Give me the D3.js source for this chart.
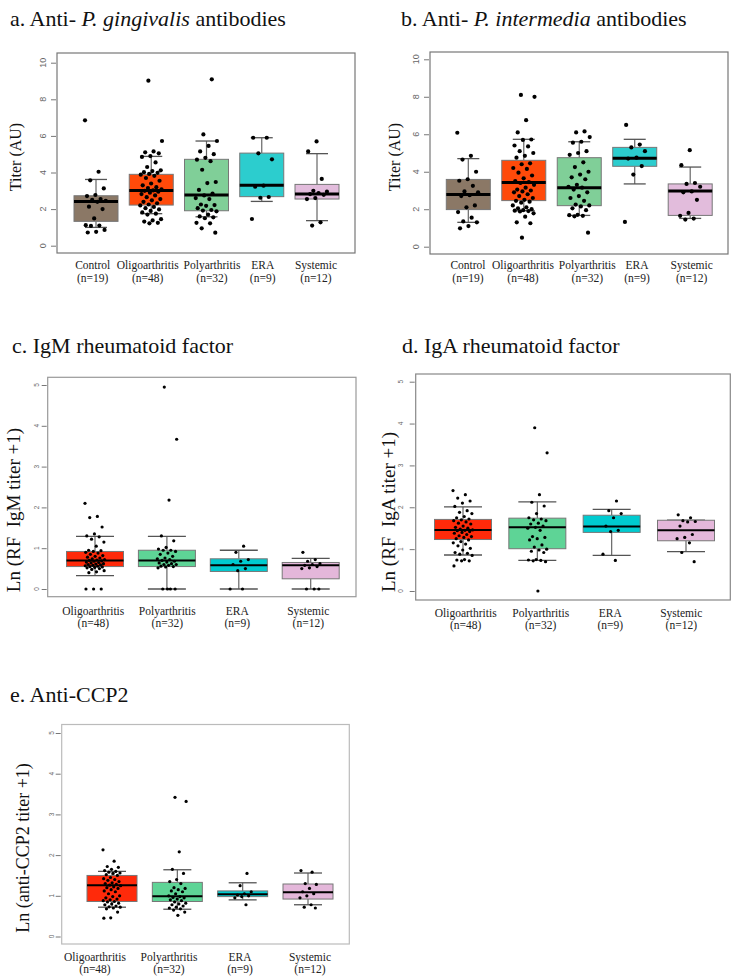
<!DOCTYPE html>
<html><head><meta charset="utf-8">
<script src="https://cdn.jsdelivr.net/npm/d3@7"></script>
<style>body{margin:0;background:#fff}</style>
</head><body><svg id="c" width="746" height="979"></svg>
<script>
// ---------- categories / tick labels ----------
const groupsAB = ["Control","Oligoarthritis","Polyarthritis","ERA","Systemic"];
const countsAB = ["(n=19)","(n=48)","(n=32)","(n=9)","(n=12)"];
const groupsCDE = ["Oligoarthritis","Polyarthritis","ERA","Systemic"];
const countsCDE = ["(n=48)","(n=32)","(n=9)","(n=12)"];
const ticksAB = [0,2,4,6,8,10];
const ticksCDE = [0,1,2,3,4,5];

// ---------- a. Anti-P. gingivalis: points ----------
const pgControl = [6.85,4.04,3.57,3.13,2.77,2.71,2.55,2.5,2.45,2.4,2.13,2.0,1.49,1.12,1.1,1.08,0.86,0.76,0.72];
const pgOligo = [9.02,5.72,5.15,5.1,5.05,4.9,4.85,4.55,4.3,4.12,4.08,4.02,3.98,3.92,3.88,3.82,3.7,3.55,3.4,3.3,3.2,3.15,3.08,3.02,3.0,2.95,2.9,2.82,2.75,2.65,2.55,2.48,2.4,2.32,2.25,2.2,2.12,2.05,1.98,1.9,1.82,1.75,1.7,1.45,1.38,1.32,1.25,1.22];
const pgPoly = [9.09,6.08,5.72,5.45,5.15,5.0,4.8,4.7,4.62,4.15,3.48,3.42,3.05,2.85,2.75,2.6,2.55,2.25,2.22,2.18,2.05,1.95,1.92,1.88,1.7,1.6,1.55,1.5,1.25,1.22,0.95,0.71];
const pgERA = [5.9,5.9,5.05,4.72,3.28,3.22,2.66,2.62,1.46];
const pgSyst = [5.7,5.15,3.65,3.0,2.95,2.88,2.82,2.78,2.6,2.55,1.28,1.1];
// box stats: [lower whisker, Q1, median, Q3, upper whisker]
const pgBoxes = [[1.0,1.33,2.42,2.73,3.62],[1.75,2.22,3.02,3.9,4.88],[1.58,1.91,2.77,4.72,5.72],[2.42,2.68,3.3,5.06,5.9],[1.37,2.55,2.82,3.35,5.03]];

// ---------- b. Anti-P. intermedia ----------
const piControl = [6.08,4.85,4.65,4.0,3.6,3.52,3.25,2.95,2.9,2.75,2.7,2.2,2.1,1.85,1.55,1.35,1.3,1.1,0.98];
const piOligo = [8.1,8.0,6.75,6.1,5.72,5.7,5.4,5.35,5.1,5.0,4.85,4.75,4.45,4.4,4.2,4.15,3.95,3.8,3.65,3.5,3.45,3.4,3.3,3.15,3.05,3.0,2.95,2.9,2.8,2.7,2.6,2.5,2.45,2.4,2.35,2.2,2.1,2.05,2.0,1.95,1.92,1.9,1.88,1.78,1.6,1.3,1.25,0.48];
const piPoly = [6.15,6.1,5.85,5.6,5.55,5.1,5.0,4.9,4.5,4.25,4.0,3.85,3.7,3.6,3.3,3.2,3.15,3.05,2.9,2.7,2.6,2.45,2.25,2.2,2.15,2.05,1.95,1.7,1.68,1.65,1.62,0.75];
const piERA = [6.5,5.45,5.3,5.1,4.75,4.7,4.3,3.85,1.32];
const piSyst = [5.15,4.35,3.4,3.35,3.2,2.95,2.9,2.5,1.8,1.65,1.5,1.45];
const piBoxes = [[1.3,1.98,2.79,3.59,4.7],[1.92,2.46,3.42,4.61,5.73],[1.67,2.19,3.15,4.75,5.6],[3.35,4.29,4.72,5.3,5.73],[1.51,1.67,2.97,3.35,4.25]];

// ---------- c. IgM RF ----------
const igmOligo = [2.1,1.78,1.75,1.52,1.35,1.3,1.28,1.22,1.15,1.05,0.95,0.94,0.92,0.9,0.88,0.85,0.82,0.8,0.78,0.76,0.74,0.72,0.71,0.7,0.69,0.68,0.66,0.65,0.64,0.62,0.61,0.6,0.59,0.58,0.57,0.56,0.55,0.54,0.53,0.52,0.5,0.48,0.45,0.42,0.4,0,0,0];
const igmPoly = [4.95,3.67,2.18,1.3,1.18,1.02,0.98,0.95,0.95,0.92,0.88,0.85,0.8,0.76,0.74,0.72,0.7,0.68,0.66,0.64,0.62,0.6,0.6,0.58,0.56,0.55,0.54,0.52,0,0,0,0];
const igmERA = [1.05,0.9,0.72,0.68,0.6,0.5,0.45,0,0];
const igmSyst = [0.9,0.72,0.68,0.62,0.6,0.58,0.55,0.52,0.5,0,0,0];
const igmBoxes = [[0.33,0.55,0.70,0.92,1.29],[0,0.55,0.70,0.95,1.29],[0,0.43,0.58,0.74,0.95],[0,0.25,0.58,0.65,0.75]];

// ---------- d. IgA RF ----------
const igaOligo = [2.4,2.3,2.22,2.15,2.1,2.02,1.92,1.88,1.85,1.78,1.75,1.72,1.7,1.68,1.65,1.62,1.6,1.55,1.52,1.5,1.48,1.46,1.45,1.44,1.42,1.4,1.38,1.35,1.32,1.3,1.28,1.25,1.22,1.18,1.15,1.12,1.08,1.02,0.98,0.92,0.9,0.88,0.85,0.75,0.74,0.72,0.72,0.6];
const igaPoly = [3.9,3.3,2.3,2.12,2.03,1.85,1.75,1.72,1.7,1.68,1.62,1.6,1.55,1.52,1.5,1.45,1.3,1.28,1.25,1.22,1.1,1.05,1.0,0.98,0.95,0.92,0.75,0.74,0.73,0.72,0.7,0];
const igaERA = [2.15,1.92,1.85,1.75,1.55,1.45,1.42,0.88,0.73];
const igaSyst = [1.82,1.75,1.68,1.66,1.65,1.55,1.35,1.28,1.25,1.15,0.92,0.7];
const igaBoxes = [[0.86,1.23,1.46,1.71,2.01],[0.73,1.01,1.52,1.74,2.13],[0.85,1.40,1.54,1.81,1.95],[0.94,1.20,1.45,1.69,1.69]];

// ---------- e. Anti-CCP2 ----------
const ccpOligo = [2.13,1.85,1.72,1.7,1.65,1.62,1.6,1.58,1.56,1.55,1.52,1.5,1.45,1.42,1.4,1.38,1.35,1.32,1.3,1.28,1.26,1.25,1.22,1.2,1.18,1.15,1.12,1.1,1.05,1.0,0.98,0.95,0.92,0.9,0.88,0.86,0.85,0.82,0.8,0.78,0.75,0.73,0.72,0.7,0.68,0.6,0.46,0.45];
const ccpPoly = [3.42,3.32,2.08,1.65,1.55,1.4,1.35,1.3,1.2,1.18,1.15,1.12,1.1,1.05,1.0,0.98,0.96,0.95,0.92,0.9,0.88,0.85,0.82,0.8,0.78,0.75,0.72,0.7,0.68,0.65,0.6,0.52];
const ccpERA = [1.55,1.25,1.1,1.05,1.02,1.0,0.98,0.95,0.78];
const ccpSyst = [1.62,1.58,1.3,1.28,1.18,1.1,1.05,1.0,0.95,0.78,0.72,0.7];
const ccpBoxes = [[0.72,0.86,1.26,1.50,1.60],[0.67,0.86,0.99,1.33,1.64],[0.90,0.98,1.04,1.12,1.32],[0.78,0.92,1.09,1.29,1.56]];

// ---------- colours ----------
const colorsAB = ["#8b7866","#ff4a0a","#80cf98","#2ccdce","#e2bcdc"];
const colorsCDE = ["#ff2a0a","#5ed496","#00cbd0","#e4b7da"];

// ---------- panel layout ----------
const panels = [
  {title:["a. Anti- ","P. gingivalis"," antibodies"], tx:10, ty:26, ylab:"Titer (AU)", ylx:15, yly:157, ylfs:16,
   frame:[57,53,355,253], yr:[245.7,62.7], dom:[0,10], ticks:ticksAB, tlx:42.7, tfs:9,
   groups:groupsAB, counts:countsAB, centers:[96,317], labX:[92.7,147.7,212,262.7,316], boxW:44, capW:22, jit:22,
   xl1:269, xl2:281.5, pts:[pgControl,pgOligo,pgPoly,pgERA,pgSyst], boxes:pgBoxes, colors:colorsAB, r:2.1, med:3, frameCol:"#777"},
  {title:["b. Anti- ","P. intermedia"," antibodies"], tx:401, ty:26, ylab:"Titer (AU)", ylx:394, yly:157, ylfs:16,
   frame:[430,52,728,254], yr:[246.7,59.3], dom:[0,10], ticks:ticksAB, tlx:415.7, tfs:9,
   groups:groupsAB, counts:countsAB, centers:[468.3,690.2], labX:[468,523,587.3,637,691.7], boxW:44, capW:22, jit:22,
   xl1:269, xl2:281.5, pts:[piControl,piOligo,piPoly,piERA,piSyst], boxes:piBoxes, colors:colorsAB, r:2.1, med:3, frameCol:"#777"},
  {title:["c. IgM rheumatoid factor"], tx:12, ty:353, ylab:"Ln (RF\u00a0 IgM titer +1)", ylx:13, yly:510, ylfs:19,
   frame:[47.7,377.3,356,596.7], yr:[589,385], dom:[0,5], ticks:ticksCDE, tlx:36.7, tfs:6.5,
   groups:groupsCDE, counts:countsCDE, centers:[95,310.7], labX:[93.3,167.3,237.3,308.3], boxW:57, capW:38, jit:20,
   xl1:615, xl2:627.3, pts:[igmOligo,igmPoly,igmERA,igmSyst], boxes:igmBoxes, colors:colorsCDE, r:1.6, med:2, frameCol:"#999"},
  {title:["d. IgA rheumatoid factor"], tx:402, ty:353, ylab:"Ln (RF\u00a0 IgA titer +1)", ylx:388, yly:512, ylfs:19,
   frame:[415.7,374,730.3,600], yr:[591,381.7], dom:[0,5], ticks:ticksCDE, tlx:401, tfs:6.5,
   groups:groupsCDE, counts:countsCDE, centers:[463,686], labX:[465.7,540.7,610.3,681.3], boxW:57, capW:38, jit:20,
   xl1:616.7, xl2:628.5, pts:[igaOligo,igaPoly,igaERA,igaSyst], boxes:igaBoxes, colors:colorsCDE, r:1.6, med:2, frameCol:"#888"},
  {title:["e. Anti-CCP2"], tx:10, ty:701.7, ylab:"Ln (anti-CCP2 titer +1)", ylx:22.7, yly:848, ylfs:18,
   frame:[61.7,724.5,349.3,944], yr:[936.5,733], dom:[0,5], ticks:ticksCDE, tlx:51.7, tfs:6.5,
   groups:groupsCDE, counts:countsCDE, centers:[112,308], labX:[95,169,240,310], boxW:50, capW:28, jit:18,
   xl1:960.7, xl2:973.3, pts:[ccpOligo,ccpPoly,ccpERA,ccpSyst], boxes:ccpBoxes, colors:colorsCDE, r:1.6, med:2, frameCol:"#bbb"}
];

const svg = d3.select("#c");
const serif = "'Liberation Serif','Times New Roman',serif";
const sans = "'Liberation Sans',Arial,sans-serif";

panels.forEach(p => {
  const g = svg.append("g");
  // title
  const t = g.append("text").attr("x", p.tx).attr("y", p.ty)
    .attr("font-family", serif).attr("font-size", 22).attr("fill", "#111");
  p.title.forEach((s, i) => t.append("tspan").text(s).attr("font-style", i === 1 ? "italic" : "normal"));

  const y = d3.scaleLinear().domain(p.dom).range(p.yr);
  const x = d3.scalePoint().domain(p.groups).range(p.centers);
  const [fx0, fy0, fx1, fy1] = p.frame;

  // frame
  g.append("rect").attr("x", fx0).attr("y", fy0).attr("width", fx1 - fx0).attr("height", fy1 - fy0)
    .attr("fill", "none").attr("stroke", p.frameCol).attr("stroke-width", 1.2);

  // y axis
  const ax = g.append("g").attr("transform", `translate(${fx0 - 1},0)`)
    .call(d3.axisLeft(y).tickValues(p.ticks).tickSize(5).tickFormat(d3.format("d")));
  ax.select(".domain").remove();
  ax.selectAll(".tick line").attr("stroke", "#777");
  ax.selectAll(".tick text").remove();
  g.selectAll(".ytl").data(p.ticks).join("text")
    .attr("transform", d => `translate(${p.tlx},${y(d)}) rotate(-90)`)
    .attr("text-anchor", "middle").attr("dy", "0.35em")
    .attr("font-family", sans).attr("font-size", p.tfs).attr("fill", "#666").text(d => d);

  // y label
  g.append("text").attr("transform", `translate(${p.ylx},${p.yly}) rotate(-90)`)
    .attr("text-anchor", "middle").attr("dy", "0.35em")
    .attr("font-family", serif).attr("font-size", p.ylfs).attr("fill", "#111").text(p.ylab);

  // x labels (two lines in one text element)
  p.groups.forEach((grp, i) => {
    const lt = g.append("text").attr("text-anchor", "middle")
      .attr("font-family", serif).attr("font-size", 11.5).attr("fill", "#222");
    lt.append("tspan").attr("x", p.labX[i]).attr("y", p.xl1).text(grp);
    lt.append("tspan").attr("x", p.labX[i]).attr("y", p.xl2).text(p.counts[i]);
  });

  // boxes
  p.groups.forEach((grp, i) => {
    const cx = x(grp), b = p.boxes[i], hw = p.boxW / 2, cw = p.capW / 2;
    const bg = g.append("g");
    bg.append("line").attr("x1", cx).attr("x2", cx).attr("y1", y(b[3])).attr("y2", y(b[4])).attr("stroke", "#666").attr("stroke-width", 1.2);
    bg.append("line").attr("x1", cx).attr("x2", cx).attr("y1", y(b[1])).attr("y2", y(b[0])).attr("stroke", "#666").attr("stroke-width", 1.2);
    bg.append("line").attr("x1", cx - cw).attr("x2", cx + cw).attr("y1", y(b[4])).attr("y2", y(b[4])).attr("stroke", "#555").attr("stroke-width", 1.3);
    bg.append("line").attr("x1", cx - cw).attr("x2", cx + cw).attr("y1", y(b[0])).attr("y2", y(b[0])).attr("stroke", "#555").attr("stroke-width", 1.3);
    bg.append("rect").attr("x", cx - hw).attr("y", y(b[3])).attr("width", p.boxW).attr("height", y(b[1]) - y(b[3]))
      .attr("fill", p.colors[i]).attr("stroke", "#777").attr("stroke-width", 1);
    bg.append("line").attr("x1", cx - hw).attr("x2", cx + hw).attr("y1", y(b[2])).attr("y2", y(b[2]))
      .attr("stroke", "#000").attr("stroke-width", p.med);
    // jittered points (deterministic low-discrepancy offsets)
    bg.selectAll("circle").data(p.pts[i]).join("circle")
      .attr("cx", (d, k) => cx + (((k * 0.618034 + i * 0.37) % 1) - 0.5) * p.jit)
      .attr("cy", d => y(d)).attr("r", p.r).attr("fill", "#000");
  });
});
</script>
</body></html>
